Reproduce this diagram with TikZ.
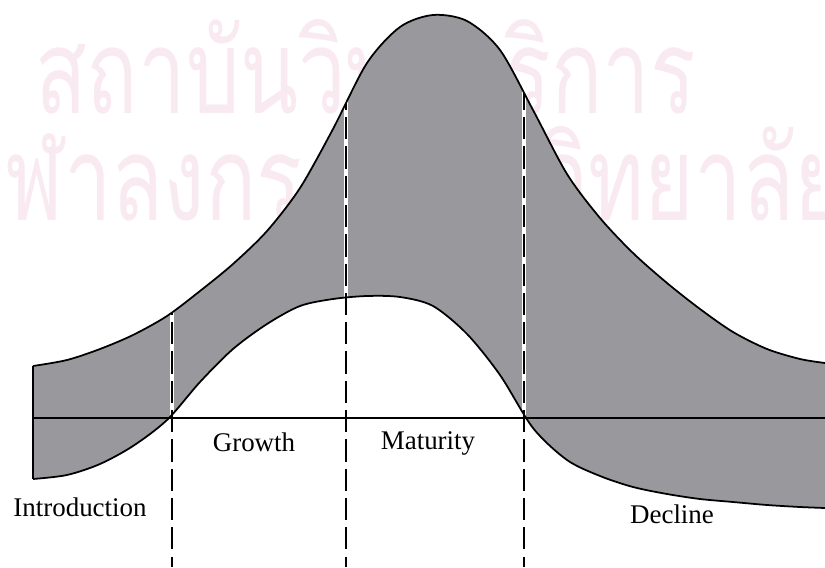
\documentclass[tikz,border=0pt]{standalone}
\usepackage{fontspec}
\setmainfont{Liberation Serif}
\newfontfamily\thaifont[Script=Thai]{Loma}
\usepackage{tikz}
\usetikzlibrary{positioning}
\definecolor{stipplegray}{RGB}{152, 152, 157}
\definecolor{markpink}{RGB}{249, 234, 241}

\begin{document}
\begin{tikzpicture}[x=0.03cm, y=-0.03cm,
        stage/.style={font=\fontsize{23}{26}\selectfont, anchor=base, inner sep=0pt},
        watermark/.style={font=\thaifont\fontsize{100}{100}\selectfont, text=markpink, anchor=base west, inner sep=0pt, xscale=0.725},
        phaseline/.style={dash pattern=on 19pt off 6pt, line width=1.3pt}]
        \useasboundingbox (0, 0) rectangle (825, 567);

        % Watermark
        \node[watermark] (markone) at (35, 114) {สถาบันวิทยบริการ};
        \node[watermark] (marktwo) at (-44, 220) {จุฬาลงกรณ์มหาวิทยาลัย};

        % Curves (upper edge and lower edge of the band)
        \def\upper{(33, 366) (67, 360) (100, 349) (133, 335) (167, 316) (200, 291)
            (233, 264) (267, 231) (300, 188) (333, 129) (367, 63) (400, 27) (433, 15)
            (467, 21) (500, 50) (533, 110) (567, 174) (600, 218) (633, 253) (667, 283)
            (700, 309) (733, 332) (767, 349) (800, 359) (825, 363)}
        \def\lower{(825, 508) (800, 507) (767, 505) (733, 502) (700, 499) (667, 494)
            (633, 487) (600, 476) (567, 460) (533, 428) (500, 375) (467, 334) (433, 306)
            (400, 297) (367, 296) (333, 299) (300, 306) (267, 324) (233, 349) (200, 382)
            (167, 420) (133, 446) (100, 464) (67, 475) (33, 479)}

        % Shaded band between the two curves
        \fill[stipplegray] plot[smooth] coordinates {\upper}
            -- plot[smooth] coordinates {\lower} -- cycle;

        % Phase lines (clipped under the upper curve)
        \begin{scope}
            \clip plot[smooth] coordinates {\upper} -- (825, 567) -- (33, 567) -- cycle;
            \foreach \px/\nm in {172/intro, 346/growth, 524/mature} {
                \coordinate (\nm top) at (\px, 0);
                \coordinate (\nm end) at (\px, 567);
                \draw[white, line width=3.2pt] (\nm top) -- (\nm end);
                \draw[phaseline] (\nm top) -- (\nm end);
            }
        \end{scope}

        % Outlines
        \draw[line width=1.5pt] plot[smooth] coordinates {\upper};
        \draw[line width=1.5pt] plot[smooth] coordinates {\lower};
        \draw[line width=1.2pt] (33, 366) -- (33, 479);

        % Time axis
        \coordinate (axisstart) at (33, 418);
        \coordinate (axisend) at (825, 418);
        \draw[line width=1pt] (axisstart) -- (axisend);

        % Stage labels
        \node[stage] (introduction) at (80, 516) {Introduction};
        \node[stage] (growth) at (254, 451) {Growth};
        \node[stage] (maturity) at (428, 449) {Maturity};
        \node[stage] (decline) at (672, 523) {Decline};
\end{tikzpicture}
\end{document}
